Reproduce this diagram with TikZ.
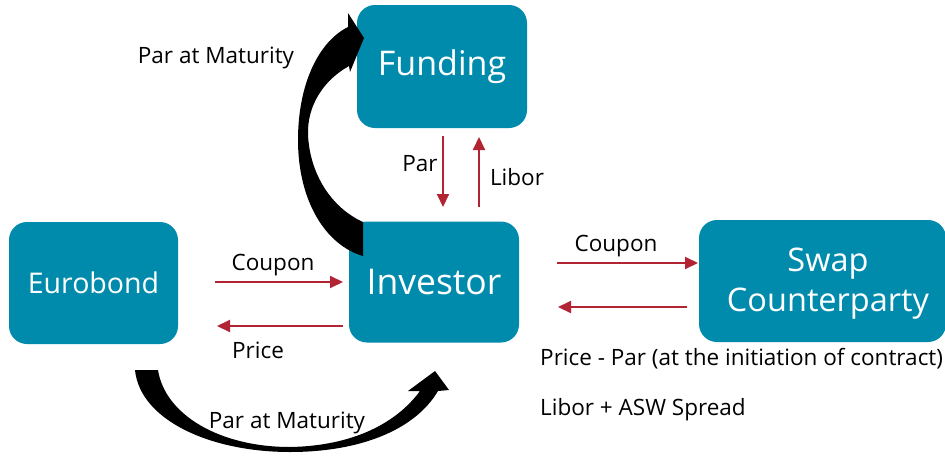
\documentclass[tikz,border=0pt]{standalone}
\usepackage{fontspec}
\setmainfont{Open Sans}
\usetikzlibrary{arrows.meta}

\definecolor{boxteal}{RGB}{0,139,173}
\definecolor{flowred}{RGB}{178,36,52}

\tikzset{
  party/.style={fill=boxteal, rounded corners=18pt, text=white, align=center, inner sep=0pt},
  flow/.style={draw=flowred, line width=2pt, -{Triangle[length=13pt,width=12pt]}},
  lbl/.style={font=\fontsize{22.5}{27}\selectfont, inner sep=0pt}
}

\begin{document}
\begin{tikzpicture}[x=1pt,y=-1pt]
\useasboundingbox (0,0) rectangle (945,458);

% the parties
\node[party, minimum width=170pt, minimum height=123pt, font=\fontsize{34}{40}\selectfont] (funding) at (442,66.5) {Funding};
\node[party, minimum width=170pt, minimum height=121pt, font=\fontsize{35.5}{40}\selectfont] (investor) at (434,282) {Investor};
\node[party, minimum width=169pt, minimum height=122pt, font=\fontsize{28.5}{34}\selectfont] (eurobond) at (93.5,283) {Eurobond};
\node[party, minimum width=247pt, minimum height=122pt] (swap) at (822.5,281) {};
\node[text=white, align=center, inner sep=0pt, font=\fontsize{32.5}{40}\selectfont] (swaptxt) at (828,284) {Swap\\Counterparty};

% ends of the cash flows
\coordinate (coupA) at (215,282);  \coordinate (coupB) at (343,282);
\coordinate (priceA) at (343,326); \coordinate (priceB) at (217,326);
\coordinate (parA) at (443,136);   \coordinate (parB) at (443,207);
\coordinate (libA) at (479,207);   \coordinate (libB) at (479,137);
\coordinate (swcA) at (557,263);   \coordinate (swcB) at (698,263);
\coordinate (swpA) at (687,307);   \coordinate (swpB) at (558,307);

% cash flows
\draw[flow] (coupA) -- (coupB);
\draw[flow] (priceA) -- (priceB);
\draw[flow] (parA) -- (parB);
\draw[flow] (libA) -- (libB);
\draw[flow] (swcA) -- (swcB);
\draw[flow] (swpA) -- (swpB);

% labels
\node[lbl] (lcoup) at (273,265) {Coupon};
\node[lbl] (lprice) at (258,350) {Price};
\node[lbl] (lpar) at (420,164) {Par};
\node[lbl] (llib) at (517,177) {Libor};
\node[lbl] (lswc) at (616,246) {Coupon};
\node[lbl, anchor=west] (lswp) at (540,359) {Price - Par (at the initiation of contract)};
\node[lbl, anchor=west] (lasw) at (540,410) {Libor + ASW Spread};
\node[lbl] (lmatA) at (216,58) {Par at Maturity};
\node[lbl] (lmatB) at (287,423) {Par at Maturity};

% Par at maturity, investor to funding
\fill (363,222) .. controls (332,208) and (310,175) .. (308,135)
  .. controls (307,105) and (324,80) .. (349,66)
  -- (350,72) -- (364,38) -- (348,13) -- (348,27)
  .. controls (318,42) and (298,85) .. (298,140)
  .. controls (298,200) and (325,245) .. (363,256) -- cycle;

% Par at maturity, eurobond to investor
\fill (135,370) .. controls (140,420) and (210,452) .. (290,452)
  .. controls (360,452) and (415,430) .. (438,391)
  -- (449,390) -- (435,371) -- (408,391) -- (420,391)
  .. controls (395,425) and (350,446) .. (290,447)
  .. controls (220,447) and (165,415) .. (158,370) -- cycle;

\end{tikzpicture}
\end{document}
